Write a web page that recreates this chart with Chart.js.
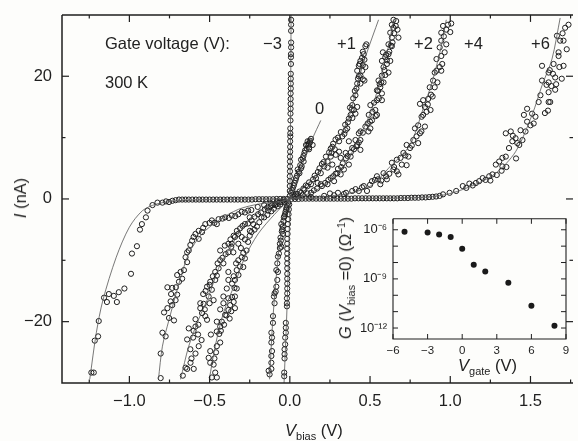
<!DOCTYPE html>
<html><head><meta charset="utf-8">
<script src="https://cdn.jsdelivr.net/npm/chart.js@4"></script>
<style>
html,body{margin:0;padding:0;background:#fdfdfb;overflow:hidden}
#wrap{position:relative;width:578px;height:441px;overflow:hidden;font-family:"Liberation Sans",Arial,sans-serif;color:#222}
canvas{position:absolute;left:0;top:0}
.t{position:absolute;white-space:nowrap;font-size:16.5px;line-height:18px}
sub{font-size:11px;line-height:0}
sup{font-size:10px;line-height:0}
</style></head><body>
<div id="wrap">
<canvas id="main" width="578" height="446" style="top:-5px"></canvas>
<canvas id="inset" width="248" height="175" style="left:330px;top:205px"></canvas>
<span class="t" style="left:105px;top:34px">Gate voltage (V):</span>
<span class="t" style="left:263px;top:34px">−3</span>
<span class="t" style="left:337px;top:34px">+1</span>
<span class="t" style="left:414px;top:34px">+2</span>
<span class="t" style="left:464px;top:34px">+4</span>
<span class="t" style="left:531px;top:34px">+6</span>
<span class="t" style="left:105px;top:73px">300 K</span>
<span class="t" style="left:315px;top:99px">0</span>
<span class="t" style="left:285px;top:421px"><i>V</i><sub>bias</sub> (V)</span>
<span class="t" style="left:20px;top:198px;transform:translate(-50%,-50%) rotate(-90deg)"><i>I</i> (nA)</span>
<span class="t" style="left:345px;top:278px;transform:translate(-50%,-50%) rotate(-90deg)"><i>G</i> (<i>V</i><sub>bias</sub> =0) (Ω<sup>−1</sup>)</span>
<span class="t" style="left:458px;top:356px"><i>V</i><sub>gate</sub> (V)</span>
</div>
<script>
const xTickValues=[-1,-0.5,0,0.5,1,1.5];
const xMinorValues=[-1.25,-0.75,-0.25,0.25,0.75,1.25,1.75];
const yTickValues=[-20,0,20];
const yMinorValues=[-10,10];
const gateTicks=[-6,-3,0,3,6,9];
const gTicks=[1e-6,1e-9,1e-12];
const gMinor=[1e-7,1e-8,1e-10,1e-11];

const gateV=[-5,-3,-2,-1,0,1,2,4,6,8];
const gZero=[7.6e-7,6.9e-7,5.2e-7,3.6e-7,6.9e-8,7.2e-9,2.8e-9,5.8e-10,2.3e-11,1.4e-12];

const minus3Pts=[[0.008,29.2],[0.008,28.4],[0.008,27.4],[0.008,25.5],[0.008,24.7],[0.007,23.6],[0.007,23.1],[0.007,22],[0.006,20.4],[0.006,19.6],[0.006,18.8],[0.006,18],[0.005,17.2],[0.005,16.3],[0.005,15.5],[0.005,14.7],[0.004,13.9],[0.004,12.8],[0.003,11.5],[0.003,10.7],[0.003,10.2],[0.002,9.4],[0.002,8.5],[0.002,7.7],[0.001,6.9],[0.001,6.1],[0.001,5.3],[0.001,4.5],[0,3.7],[0,2.9],[0,2.1],[0,1.3],[0,0.5],
[-0.004,-0.9],[-0.006,-1.7],[-0.008,-2.5],[-0.01,-3.3],[-0.012,-4.1],[-0.014,-4.9],[-0.014,-5.7],[-0.016,-6.5],[-0.016,-7.3],[-0.016,-8.1],[-0.016,-8.9],[-0.016,-9.7],[-0.016,-10.5],[-0.016,-11.3],[-0.016,-12.2],[-0.016,-13],[-0.016,-13.8],[-0.016,-14.6],[-0.016,-15.4],[-0.018,-16.2],[-0.018,-17],[-0.018,-17.5],[-0.025,-20.2],[-0.025,-21],[-0.025,-21.8],[-0.029,-22.6],[-0.029,-23.7],[-0.033,-24.5],[-0.033,-25.3],[-0.033,-26],[-0.035,-28.3],[-0.035,-28.9]];
const zeroPts=[[0.132,9.8],[0.111,9.4],[0.142,8.8],[0.101,8.8],[0.121,8.4],[0.091,7.5],[0.07,6.4],[0.086,6.1],[0.049,4.8],[0.074,5.3],[0.039,3.4],[0.029,2.6],[0.019,1.8],[0.06,4.2],[0.008,1],[0.126,9.2],[0.11,8.9],
[0.125,9.5],[0.118,9],[0.105,8.2],[0.095,7.9],[0.085,7],[0.08,6.6],[0.065,5.5],[0.055,4.4],[0.045,3.8],[0.035,3],[0.025,2.2],[0.015,1.4],[0.12,8.1],[0.07,5],
[-0.126,-28.6],[-0.115,-27.7],[-0.132,-28],[-0.115,-26.7],[-0.115,-25.6],[-0.111,-24.8],[-0.115,-23.4],[-0.111,-22.6],[-0.115,-21.8],[-0.105,-20.2],[-0.105,-19.1],[-0.095,-17],[-0.099,-15.9],[-0.095,-15.4],[-0.088,-15.1],[-0.084,-14.3],[-0.078,-13.2],[-0.074,-11.9],[-0.084,-11.6],[-0.078,-10.5],[-0.074,-9.4],[-0.068,-8.9],[-0.062,-8],[-0.053,-7.8],[-0.056,-6.8],[-0.043,-5.7],[-0.047,-5],[-0.053,-4.1],[-0.037,-3],[-0.03,-2.5],[-0.023,-1.7],[-0.016,-1.1],
[-0.01,-0.6],[-0.02,-1.4],[-0.027,-2.1],[-0.034,-2.8],[-0.04,-3.6],[-0.045,-4.5],[-0.05,-5.3],[-0.058,-6.3],[-0.062,-7.3]];
const plus1Pts=[[0.471,24.9],[0.477,25.2],[0.44,22.5],[0.465,22.7],[0.43,21.7],[0.471,21.5],[0.42,20.9],[0.451,20.9],[0.44,20.1],[0.465,19.3],[0.42,18.8],[0.44,18.8],[0.409,16.9],[0.389,15.3],[0.42,15],[0.399,14.5],[0.379,13.7],[0.368,13.1],[0.409,13.9],[0.358,11.5],[0.348,11.2],[0.327,10.2],[0.307,9.4],[0.265,8.5],[0.307,7.7],[0.255,6.9],[0.286,7.2],[0.235,6.1],[0.265,5.6],[0.214,5.3],[0.193,4.2],[0.235,5.1],[0.163,3.4],[0.173,2.6],[0.132,2.4],[0.111,2.1],[0.07,1],[0.049,0.8],[0.09,1.5],[0.03,0.5],
[0.455,24],[0.46,23.6],[0.45,23],[0.435,22],[0.455,21.8],[0.43,20],[0.455,19.5],[0.425,19.6],[0.415,18],[0.405,17.6],[0.395,16.4],[0.385,14.6],[0.375,14.9],[0.39,13.2],[0.362,12.5],[0.345,12.1],[0.34,10.6],[0.318,10.9],[0.3,10],[0.285,9.7],[0.27,9],[0.255,8.2],[0.245,7.6],[0.28,8.1],[0.26,7.5],[0.225,6.9],[0.21,6],[0.2,5.7],[0.185,5],[0.175,4.4],[0.155,3.8],[0.145,3.2],[0.12,2.7],[0.1,2.2],[0.085,1.7],[0.06,1.2],[0.04,0.8],[0.02,0.4],
[-0.465,-28.3],[-0.486,-29.1],[-0.455,-29.1],[-0.496,-26.7],[-0.475,-27],[-0.506,-25.9],[-0.496,-24.8],[-0.455,-24],[-0.434,-23.4],[-0.492,-22.1],[-0.455,-21.6],[-0.434,-20.8],[-0.455,-20],[-0.424,-20],[-0.403,-18.9],[-0.434,-18],[-0.383,-18.1],[-0.342,-17.8],[-0.414,-17],[-0.372,-17.3],[-0.383,-16.2],[-0.414,-15.9],[-0.342,-15.9],[-0.331,-14.6],[-0.393,-14.6],[-0.383,-13.2],[-0.342,-13.2],[-0.383,-11.9],[-0.331,-11.6],[-0.29,-11.1],[-0.321,-10],[-0.28,-9.7],[-0.27,-8.4],[-0.321,-7.3],[-0.362,-7.3],[-0.3,-6.2],[-0.239,-5.4],[-0.228,-4.1],[-0.177,-3],[-0.136,-1.9],[-0.249,-5.2],[-0.09,-1],[-0.05,-0.5],
[-0.47,-26],[-0.46,-25],[-0.44,-22],[-0.43,-21.5],[-0.41,-20.5],[-0.395,-19],[-0.375,-19.5],[-0.365,-18.3],[-0.35,-16.8],[-0.36,-16],[-0.345,-14.5],[-0.36,-13.8],[-0.35,-12.6],[-0.32,-12.4],[-0.31,-11],[-0.335,-10.5],[-0.3,-9.5],[-0.29,-8.8],[-0.305,-8],[-0.26,-7],[-0.28,-6.6],[-0.25,-6],[-0.22,-5],[-0.205,-4.5],[-0.19,-3.8],[-0.16,-3],[-0.14,-2.6],[-0.115,-2],[-0.1,-1.6],[-0.075,-1.2],[-0.06,-0.9],[-0.035,-0.5]];
const plus2Pts=[[0.646,29.2],[0.663,29],[0.636,28.4],[0.671,27.6],[0.646,27.9],[0.626,27.1],[0.677,26.3],[0.636,26.3],[0.615,25.2],[0.636,24.9],[0.58,23.9],[0.615,23.6],[0.595,23.1],[0.626,22.5],[0.574,22.5],[0.605,22],[0.584,21.5],[0.615,20.6],[0.574,20.1],[0.553,19.3],[0.584,19],[0.564,18.2],[0.543,17.7],[0.574,17.2],[0.543,16.1],[0.574,16.1],[0.502,15.3],[0.533,14.5],[0.492,13.7],[0.543,13.7],[0.512,12.8],[0.471,11.8],[0.502,11.5],[0.43,10.7],[0.409,9.6],[0.44,9.6],[0.42,8.8],[0.368,9.4],[0.389,8.3],[0.44,8],[0.348,7.5],[0.379,6.9],[0.368,5.6],[0.317,6.7],[0.337,4.8],[0.296,4.2],[0.317,4],[0.255,3.4],[0.276,2.9],[0.193,2.4],[0.235,2.4],[0.132,1],[0.08,0.6],[0.04,0.3],
[0.66,28.2],[0.65,27],[0.64,25.5],[0.63,25],[0.62,24],[0.6,23.5],[0.605,22.6],[0.59,21],[0.595,20.2],[0.57,19],[0.56,18.7],[0.55,17.6],[0.555,16.4],[0.525,15.7],[0.515,14.2],[0.535,13.5],[0.5,12.6],[0.485,12.3],[0.49,11],[0.455,10.8],[0.44,11],[0.43,9.2],[0.415,8.6],[0.4,8.1],[0.38,7.6],[0.36,7],[0.35,6.6],[0.33,5.8],[0.32,5.2],[0.3,4.9],[0.285,4.1],[0.27,3.7],[0.24,3.1],[0.22,2.6],[0.2,2.1],[0.17,1.7],[0.15,1.4],[0.11,0.9],
[-0.667,-28.8],[-0.64,-27.7],[-0.65,-27.5],[-0.619,-26.7],[-0.599,-27.7],[-0.613,-26],[-0.588,-25.2],[-0.568,-24],[-0.64,-22.9],[-0.603,-22.6],[-0.572,-22.1],[-0.63,-21.1],[-0.588,-20.8],[-0.588,-19.6],[-0.527,-19.1],[-0.547,-18.6],[-0.516,-19.7],[-0.558,-17.8],[-0.537,-17.1],[-0.558,-17],[-0.475,-16.5],[-0.506,-15.9],[-0.486,-14.8],[-0.516,-14.3],[-0.465,-13.2],[-0.496,-13.5],[-0.465,-11.9],[-0.444,-11.3],[-0.434,-10],[-0.414,-10.5],[-0.434,-8.4],[-0.383,-8.7],[-0.352,-8.7],[-0.383,-7.3],[-0.342,-6.2],[-0.321,-5.7],[-0.28,-4.1],[-0.239,-3.5],[-0.198,-2.5],[-0.156,-1.7],[-0.11,-1],[-0.07,-0.6],
[-0.54,-15.5],[-0.525,-15],[-0.5,-14],[-0.48,-12.6],[-0.455,-12.5],[-0.45,-10.5],[-0.42,-9.6],[-0.4,-9],[-0.405,-7.6],[-0.365,-7.8],[-0.37,-6.6],[-0.35,-6],[-0.33,-5.2],[-0.31,-4.8],[-0.295,-4.4],[-0.26,-4],[-0.25,-3],[-0.22,-2.9],[-0.18,-2.2],[-0.14,-1.4],[-0.12,-1.2],[-0.09,-0.8],[-0.5,-17],[-0.53,-18],[-0.57,-20.5],[-0.6,-21.5],[-0.55,-23],[-0.62,-24.5]];
const plus4Pts=[[0.955,28.2],[0.986,28.4],[1.006,28.6],[0.944,27.1],[0.975,27.6],[1,27.2],[0.944,25.8],[0.975,25.2],[0.934,24.7],[0.965,23.9],[0.944,23.3],[0.914,22.8],[0.934,21.5],[0.914,20.9],[0.903,20.6],[0.944,20.9],[0.893,19.3],[0.903,18.2],[0.872,18.2],[0.831,16.1],[0.862,16.3],[0.811,15.5],[0.842,15],[0.831,13.7],[0.877,14.5],[0.852,14.2],[0.821,13.4],[0.8,12],[0.78,11.5],[0.842,11.8],[0.811,10.7],[0.77,9.6],[0.8,9.1],[0.728,8.8],[0.749,8.3],[0.708,7.5],[0.739,6.9],[0.667,6.4],[0.636,5.9],[0.698,5.6],[0.728,5.5],[0.667,4.5],[0.646,4.8],[0.677,4],[0.584,4.2],[0.543,3.7],[0.605,3.2],[0.512,2.9],[0.564,2.4],[0.461,2.1],[0.481,1.3],[0.389,1.3],[0.43,1.3],[0.337,0.8],[0.276,0.6],[0.214,0.5],[0.132,0.3],
[0.25,0.9],[0.3,1],[0.35,1],[0.41,1.6],[0.45,1.9],[0.5,2.3],[0.53,3.1],[0.55,3.2],[0.57,3],[0.6,3.7],[0.62,4.1],[0.65,5.2],[0.69,6.7],[0.72,7.1],[0.76,8.7],[0.79,10.2],[0.82,11],[0.86,15.4],[0.88,17],[0.89,16.7],[0.92,19],[0.95,22],[0.96,26.5],
[-0.28,-2.2],[-0.321,-2.5],[-0.362,-2.7],[-0.403,-3],[-0.444,-3.3],[-0.455,-4.1],[-0.486,-3.5],[-0.527,-4.1],[-0.568,-5.2],[-0.547,-5.4],[-0.588,-5.7],[-0.609,-6.8],[-0.568,-6.5],[-0.63,-8.4],[-0.64,-8.7],[-0.64,-10.3],[-0.66,-11.6],[-0.681,-11.9],[-0.702,-12.4],[-0.671,-13],[-0.691,-13.5],[-0.763,-14.4],[-0.733,-14.5],[-0.702,-15.6],[-0.712,-16.5],[-0.743,-16.7],[-0.763,-17.8],[-0.784,-18.5],[-0.733,-17.3],[-0.753,-19.4],[-0.722,-19.8],[-0.794,-21.8],[-0.774,-22.4],[-0.805,-25.2],[-0.805,-29.2],[-0.24,-1.8],[-0.2,-1.3],[-0.16,-1],[-0.12,-0.7],[-0.08,-0.4],[-0.04,-0.2],
[-0.3,-2.1],[-0.34,-2.8],[-0.38,-3.1],[-0.42,-3.2],[-0.47,-3.9],[-0.5,-3.9],[-0.54,-4.7],[-0.6,-6.2],[-0.62,-7.5],[-0.65,-9.5],[-0.71,-14.4],[-0.74,-15.5],[-0.26,-1.9]];
const plus6Pts=[[0.955,0.75],[0.996,1],[1.037,1.3],[1.078,2.1],[1.119,2.5],[1.16,2.6],[1.202,3.4],[1.243,3.7],[1.263,4],[1.284,5.6],[1.305,6.1],[1.325,6.7],[1.346,6.9],[1.325,5.3],[1.366,8.3],[1.387,9.4],[1.418,9.1],[1.346,10.7],[1.377,11],[1.407,9.9],[1.438,11.2],[1.469,11],[1.479,12.6],[1.459,13.7],[1.51,13.9],[1.531,13.4],[1.479,14.7],[1.551,15.8],[1.562,16.9],[1.613,15.8],[1.623,15.8],[1.609,14.4],[1.654,17.8],[1.613,17.4],[1.572,19.3],[1.613,19],[1.654,19.8],[1.695,19.6],[1.572,21.7],[1.644,22],[1.613,20.6],[1.675,23.3],[1.665,26.6],[1.706,25.8],[1.726,24.4],[1.706,21.7],[1.737,28.4],[1.716,27.9],[1.685,25.8],[1.675,23.9],
[1.1,1.8],[1.14,2.2],[1.18,2.9],[1.22,3.1],[1.25,3],[1.29,3.9],[1.32,4.6],[1.35,5.2],[1.41,6.6],[1.43,8.8],[1.39,10.3],[1.45,9.6],[1.5,12],[1.52,12.3],[1.59,14],[1.6,18.6],[1.63,18.4],[1.62,21],[1.66,18.7],[1.64,20.4],[1.68,21.5],[1.7,27],
[-0.887,-1.9],[-0.897,-3],[-0.922,-4.1],[-0.934,-5],[-0.953,-7.7],[-0.984,-8.9],[-0.99,-12.2],[-1.031,-14.6],[-1.066,-15.2],[-1.097,-15.8],[-1.128,-15.5],[-1.158,-16.1],[-1.14,-16.8],[-1.078,-16.8],[-1.191,-19.9],[-1.195,-22.4],[-1.216,-23.1],[-1.237,-28.3],[-1.222,-28.3]];
const plus6FlatPts=[[-0.856,-1],[-0.825,-0.6],[-0.794,-0.6],[-0.772,-0.4],[-0.753,-0.5],[-0.732,-0.3],[-0.712,-0.2],[-0.691,-0.1],[-0.671,-0.1],[-0.65,-0.1],[-0.63,-0.1],[-0.608,-0.1],[-0.586,-0.1],[-0.565,-0.1],[-0.544,-0.1],[-0.522,-0.1],[-0.5,-0.1],[-0.478,-0.1],[-0.456,-0.1],[-0.434,-0.1],[-0.412,-0.1],[-0.39,-0.1],[-0.368,-0.1],[-0.346,-0.1],[-0.324,-0.1],[-0.302,-0.1],[-0.28,-0.1],[-0.258,-0.1],[-0.236,-0.1],[-0.214,-0.05],[-0.192,-0.05],[-0.17,-0.05],[-0.148,-0.05],[-0.126,-0.05],[-0.104,-0.05],[-0.082,0],[-0.06,0],[-0.038,0],[-0.016,0],
[0.01,0],[0.032,0],[0.054,0],[0.076,0.05],[0.098,0.05],[0.12,0.05],[0.142,0.05],[0.164,0.05],[0.186,0.05],[0.208,0.05],[0.23,0.05],[0.252,0.05],[0.274,0.05],[0.296,0.05],[0.318,0.05],[0.34,0.05],[0.362,0.05],[0.384,0.05],[0.406,0.1],[0.428,0.1],[0.45,0.1],[0.472,0.1],[0.494,0.1],[0.516,0.1],[0.538,0.1],[0.56,0.1],[0.582,0.1],[0.604,0.1],[0.626,0.1],[0.648,0.1],[0.67,0.1],[0.692,0.15],[0.714,0.15],[0.736,0.15],[0.758,0.2],[0.78,0.2],[0.802,0.2],[0.824,0.25],[0.846,0.25],[0.868,0.3],[0.89,0.35],[0.912,0.4],[0.934,0.5]];

const minus3Line=[[-0.036,-30],[-0.016,-16.5],[0,0],[0.008,30]];
const zeroLine=[[-0.126,-29.4],[-0.111,-21.8],[-0.095,-15.9],[-0.064,-7.3],[-0.033,-2.5],[0,0],[0.049,3.4],[0.1,7.2],[0.142,9.9],[0.193,12.8]];
const plus1Line=[[-0.502,-29.4],[-0.465,-24],[-0.414,-18.6],[-0.342,-13.8],[-0.28,-9.5],[-0.198,-5.7],[-0.095,-2.5],[0,0],[0.049,1],[0.132,2.9],[0.235,6.6],[0.317,10.4],[0.379,14.2],[0.43,19.6],[0.481,23.9],[0.553,29.2]];
const plus2Line=[[-0.681,-29.4],[-0.63,-24],[-0.568,-19.6],[-0.506,-15.9],[-0.444,-11.3],[-0.383,-8.4],[-0.28,-4.3],[-0.156,-1.5],[0,0],[0.132,1],[0.276,3.4],[0.368,6.7],[0.44,10.4],[0.512,14.7],[0.564,19.6],[0.615,24.9],[0.646,29.2]];
const plus4Line=[[-0.819,-29.4],[-0.794,-24],[-0.753,-19.7],[-0.691,-13.8],[-0.63,-8.9],[-0.547,-5.7],[-0.444,-3.5],[-0.321,-1.7],[-0.198,-0.86],[-0.033,-0.3],[0,0],[0.132,0.2],[0.337,0.75],[0.502,2.1],[0.626,5.3],[0.749,8.8],[0.831,14.7],[0.893,19.6],[0.944,24.9],[0.975,29.2]];
const plus6Line=[[-1.247,-29.4],[-1.206,-21.8],[-1.165,-16.5],[-1.082,-9.5],[-1,-4.6],[-0.918,-1.9],[-0.835,-0.86],[-0.733,-0.4],[-0.5,-0.1],[0,0],[0.543,0.1],[0.852,0.3],[0.996,0.86],[1.16,2.4],[1.284,4.2],[1.407,7.7],[1.51,13.7],[1.572,18.5],[1.634,22.8],[1.685,29.5]];

const ink='#1f1f1f';
const toXY=a=>a.map(p=>({x:p[0],y:p[1]}));
const lineSet=a=>({data:toXY(a),showLine:true,tension:0.3,pointRadius:0,borderColor:'#555',borderWidth:0.8,fill:false});
const dotSet=a=>({data:toXY(a),showLine:false,pointRadius:2.6,pointBorderWidth:1,pointBorderColor:ink,pointBackgroundColor:'rgba(0,0,0,0)'});
Chart.defaults.animation=false;
Chart.defaults.font.family='"Liberation Sans",Arial,sans-serif';
Chart.defaults.color=ink;

function inwardTicks(sets){return {id:'inwardTicks',afterDraw(c){
  const g=c.ctx,a=c.chartArea,X=c.scales.x,Y=c.scales.y;
  g.save();g.strokeStyle=ink;
  g.lineWidth=sets.frame;g.beginPath();
  g.moveTo(a.left,a.top);g.lineTo(a.right,a.top);
  if(sets.rightLine){g.lineTo(a.right,a.bottom);}else{g.moveTo(a.right,a.bottom);}
  g.lineTo(a.left,a.bottom);g.lineTo(a.left,a.top);g.stroke();
  g.lineWidth=sets.tick;
  const seg=(x1,y1,x2,y2)=>{g.beginPath();g.moveTo(x1,y1);g.lineTo(x2,y2);g.stroke();};
  const vx=(v,l)=>{const p=X.getPixelForValue(v);seg(p,a.bottom,p,a.bottom-l);seg(p,a.top,p,a.top+l);};
  const hy=(v,l)=>{const p=Y.getPixelForValue(v);seg(a.left,p,a.left+l,p);seg(a.right,p,a.right-l,p);};
  sets.xMajor.forEach(v=>vx(v,sets.major));sets.xMinor.forEach(v=>vx(v,sets.minor));
  sets.yMajor.forEach(v=>hy(v,sets.major));sets.yMinor.forEach(v=>hy(v,sets.minor));
  g.restore();}};}

new Chart(document.getElementById('main'),{type:'scatter',
 data:{datasets:[minus3Line,zeroLine,plus1Line,plus2Line,plus4Line,plus6Line].map(lineSet).concat([minus3Pts,zeroPts,plus1Pts,plus2Pts,plus4Pts,plus6Pts,plus6FlatPts].map(dotSet))},
 options:{responsive:false,layout:{padding:0},plugins:{legend:{display:false},tooltip:{enabled:false}},
  scales:{
   x:{type:'linear',min:-1.42,max:1.765,grid:{display:false,tickLength:0},border:{display:false},
      afterBuildTicks:s=>{s.ticks=xTickValues.map(v=>({value:v}));},
      afterFit:s=>{s.height=58;},
      ticks:{autoSkip:false,maxRotation:0,padding:9,font:{size:16.5},callback:v=>(v<0?'−':'')+Math.abs(v).toFixed(1)}},
   y:{type:'linear',min:-30,max:30,grid:{display:false,tickLength:0},border:{display:false},
      afterBuildTicks:s=>{s.ticks=yTickValues.map(v=>({value:v}));},
      afterFit:s=>{s.width=62;},
      ticks:{autoSkip:false,padding:10,font:{size:16.5},callback:v=>(v<0?'−':'')+Math.abs(v)}}
  }},
 plugins:[inwardTicks({frame:1.5,tick:1.2,major:7,minor:3.5,rightLine:false,xMajor:xTickValues,xMinor:xMinorValues,yMajor:yTickValues,yMinor:yMinorValues})]
});

new Chart(document.getElementById('inset'),{type:'scatter',
 data:{datasets:[{data:gateV.map((v,i)=>({x:v,y:gZero[i]})),showLine:false,pointRadius:3,pointBorderWidth:0,pointBackgroundColor:'#1a1a1a'}]},
 options:{responsive:false,layout:{padding:{top:13,right:12}},plugins:{legend:{display:false},tooltip:{enabled:false}},
  scales:{
   x:{type:'linear',min:-6,max:9,grid:{display:false,tickLength:0},border:{display:false},
      afterBuildTicks:s=>{s.ticks=gateTicks.map(v=>({value:v}));},
      afterFit:s=>{s.height=41;},
      ticks:{autoSkip:false,maxRotation:0,padding:5,font:{size:11.5},callback:v=>(v<0?'−':'')+Math.abs(v)}},
   y:{type:'logarithmic',min:Math.pow(10,-12.67),max:Math.pow(10,-5.33),grid:{display:false,tickLength:0},border:{display:false},
      afterBuildTicks:s=>{s.ticks=gTicks.map(v=>({value:v}));},
      afterFit:s=>{s.width=63;},
      ticks:{autoSkip:false,padding:6,font:{size:13},callback:v=>'10'+({'-6':'⁻⁶','-9':'⁻⁹','-12':'⁻¹²'})[Math.round(Math.log10(v))]}}
  }},
 plugins:[inwardTicks({frame:1.1,tick:1,major:5,minor:5,rightLine:true,xMajor:gateTicks,xMinor:[],yMajor:gTicks,yMinor:gMinor})]
});
</script>
</body></html>
